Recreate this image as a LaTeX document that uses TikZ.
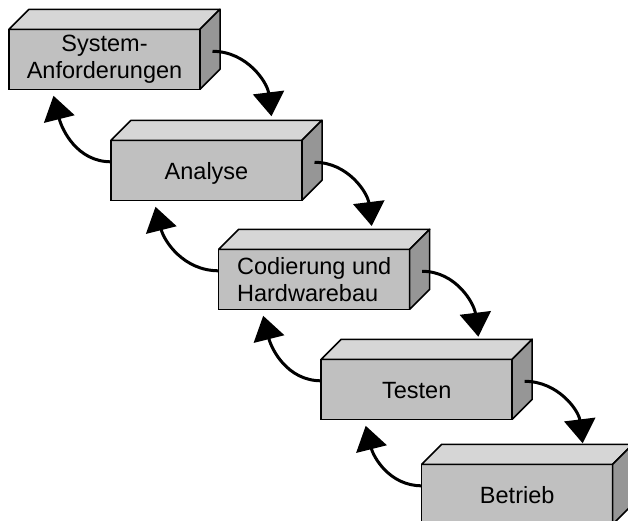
\documentclass[tikz,border=0pt]{standalone}
\usepackage{fontspec}
\setmainfont{Liberation Sans}
\usetikzlibrary{arrows.meta}

\definecolor{frontgray}{RGB}{192,192,192}
\definecolor{topgray}{RGB}{214,214,214}
\definecolor{sidegray}{RGB}{150,150,150}
\def\depth{20}

\tikzset{
  phase/.style={draw, line width=1.5pt, fill=frontgray, minimum width=191pt,
    minimum height=60pt, inner sep=0pt, outer sep=0pt,
    font=\fontsize{23.5}{27}\selectfont},
  oneline/.style={text height=19pt, text depth=0pt},
  face/.style={draw, line width=1.5pt, line join=round},
  flow/.style={line width=3pt, -{Triangle[length=24pt,width=31pt]}}
}

\begin{document}
\begin{tikzpicture}[x=1pt, y=1pt]
  \useasboundingbox (0,0) rectangle (628,-521);
  \node[phase, align=center] (req) at (104.5,-59.3) {System-\\Anforderungen};
  \node[phase, oneline] (ana) at (206.5,-170.3) {Analyse};
  \node[phase, align=left] (code) at (314.2,-279.3) {Codierung und\\Hardwarebau};
  \node[phase, oneline] (test) at (416.7,-389.3) {Testen};
  \node[phase, oneline] (run) at (517.2,-494.3) {Betrieb};
  % top and side faces
  \foreach \b in {req,ana,code,test,run} {
    \draw[face, fill=topgray] (\b.north west) -- ++(\depth,\depth) -- ++(191,0) -- (\b.north east) -- cycle;
    \draw[face, fill=sidegray] (\b.north east) -- ++(\depth,\depth) -- ++(0,-60) -- (\b.south east) -- cycle;
  }
  % forward arrows
  \foreach \a/\b/\dx/\dy in {req/ana/65/24, ana/code/57.5/23.3, code/test/61.6/22.6, test/run/65.5/21}
    \draw[flow] ([xshift=12.5pt,yshift=8pt]\a.east) to[out=0,in=97] ([xshift=\dx pt,yshift=\dy pt]\b.north);
  % backward arrows
  \foreach \a/\b in {ana/req, code/ana, test/code, run/test}
    \draw[flow] ([yshift=8.5pt]\a.west) to[out=180,in=-76] ([xshift=-51pt,yshift=-6.5pt]\b.south);
\end{tikzpicture}
\end{document}
